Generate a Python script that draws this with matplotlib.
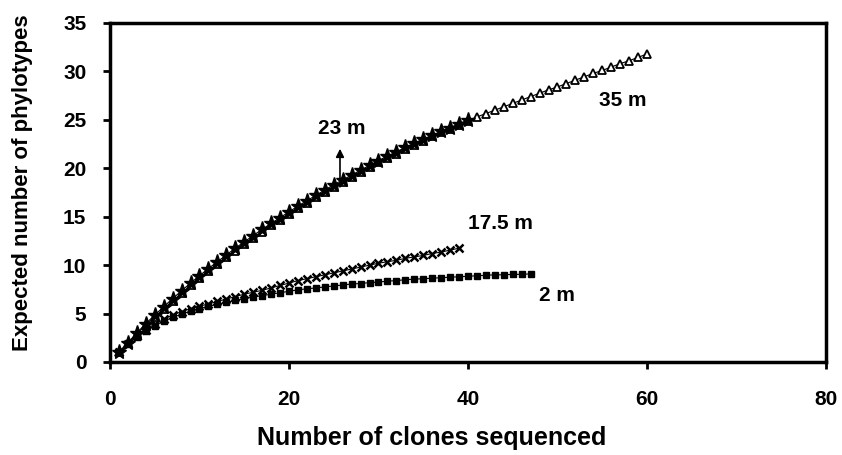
import numpy as np
import matplotlib
matplotlib.use("Agg")
import matplotlib.pyplot as plt

plt.rcParams['font.family'] = ['Liberation Sans', 'DejaVu Sans']
plt.rcParams['font.weight'] = 'bold'

# expected phylotypes per number of clones
m35 = [1.0, 1.95, 2.9, 3.8, 4.65, 5.5, 6.3, 7.1, 7.9, 8.65,
       9.4, 10.1, 10.8, 11.5, 12.15, 12.8, 13.45, 14.1, 14.7, 15.3,
       15.9, 16.45, 17.0, 17.55, 18.1, 18.6, 19.1, 19.6, 20.1, 20.6,
       21.05, 21.5, 21.95, 22.4, 22.85, 23.3, 23.7, 24.1, 24.5, 24.9,
       25.3, 25.65, 26.0, 26.35, 26.7, 27.05, 27.4, 27.75, 28.1, 28.4,
       28.75, 29.1, 29.45, 29.8, 30.1, 30.45, 30.8, 31.1, 31.45, 31.8]
m23 = [1.0, 2.0, 3.0, 3.95, 4.85, 5.7, 6.55, 7.35, 8.15, 8.9,
       9.65, 10.35, 11.05, 11.75, 12.4, 13.05, 13.7, 14.3, 14.9, 15.5,
       16.1, 16.65, 17.2, 17.75, 18.3, 18.8, 19.3, 19.8, 20.3, 20.8,
       21.25, 21.7, 22.15, 22.6, 23.0, 23.4, 23.8, 24.2, 24.6, 25.0]
m175 = [1.0, 1.9, 2.7, 3.35, 3.9, 4.4, 4.85, 5.2, 5.5, 5.75,
        6.0, 6.25, 6.5, 6.75, 7.0, 7.2, 7.4, 7.65, 7.9, 8.15,
        8.4, 8.6, 8.8, 9.0, 9.2, 9.4, 9.6, 9.8, 10.0, 10.2,
        10.35, 10.5, 10.7, 10.85, 11.0, 11.2, 11.35, 11.55, 11.75]
m2 = [1.0, 1.85, 2.6, 3.2, 3.75, 4.2, 4.6, 4.95, 5.25, 5.5,
      5.75, 5.95, 6.15, 6.35, 6.55, 6.7, 6.85, 7.0, 7.15, 7.3,
      7.45, 7.55, 7.65, 7.75, 7.85, 7.95, 8.05, 8.1, 8.2, 8.25,
      8.35, 8.4, 8.5, 8.55, 8.6, 8.65, 8.7, 8.75, 8.8, 8.85,
      8.9, 8.95, 9.0, 9.0, 9.05, 9.05, 9.1]

fig = plt.figure(figsize=(8.42, 4.55), dpi=100)
ax = fig.add_axes([0.1306, 0.2044, 0.8504, 0.7451])

def clones(v):
    return np.arange(1, len(v) + 1)

ax.plot(clones(m35), m35, color='black', lw=0.8, marker='^', ms=6,
        mfc='white', mec='black', mew=1.3)
ax.plot(clones(m23), m23, color='black', lw=0.8, marker='*', ms=11,
        mfc='black', mec='black', mew=1.0)
ax.plot(clones(m2), m2, color='black', lw=0.8, marker='s', ms=5,
        mfc='black', mec='black')
ax.plot(clones(m175), m175, color='black', lw=0.8, marker='x', ms=6, mew=1.8)

ax.text(25.9, 24.1, '23 m', ha='center', va='center', fontsize=15, fontweight='bold')
ax.annotate('', xy=(25.7, 22.3), xytext=(25.7, 17.8),
            arrowprops=dict(arrowstyle='-|>', color='black', lw=1.2,
                            mutation_scale=12))
ax.text(57.3, 27.0, '35 m', ha='center', va='center', fontsize=15, fontweight='bold')
ax.text(43.6, 14.3, '17.5 m', ha='center', va='center', fontsize=15, fontweight='bold')
ax.text(49.9, 6.9, '2 m', ha='center', va='center', fontsize=15, fontweight='bold')

ax.set_xlim(0, 80)
ax.set_ylim(0, 35)
ax.set_xticks([0, 20, 40, 60, 80])
ax.set_yticks(range(0, 36, 5))
ax.tick_params(direction='out', length=5, width=2, labelsize=15)
ax.tick_params(axis='x', pad=15)
ax.tick_params(axis='y', pad=12)
for s in ax.spines.values():
    s.set_linewidth(2.5)

ax.set_xlabel('Number of clones sequenced', fontsize=18, fontweight='bold')
ax.xaxis.set_label_coords(0.45, -0.19)
ax.set_ylabel('Expected number of phylotypes', fontsize=16, fontweight='bold')
ax.yaxis.set_label_coords(-0.107, 0.528)

fig.savefig('out.png', dpi=100)
